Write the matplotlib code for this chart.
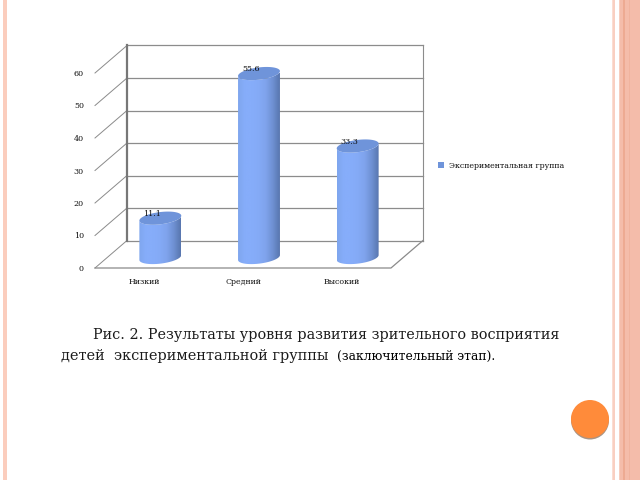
import numpy as np
import matplotlib
matplotlib.use('Agg')
import matplotlib.pyplot as plt
from matplotlib.patches import Polygon, Rectangle, Circle, Patch
from matplotlib.colors import LinearSegmentedColormap

categories = ['Низкий', 'Средний', 'Высокий']
values = [11.1, 55.6, 33.3]
value_labels = ['11.1', '55.6', '33.3']
series_name = 'Экспериментальная группа'
yticks = [0, 10, 20, 30, 40, 50, 60]
caption_1 = 'Рис. 2. Результаты уровня развития зрительного восприятия'
caption_2a = 'детей  экспериментальной группы '
caption_2b = '(заключительный этап).'

W, H = 640, 480
plt.rcParams['font.family'] = ['DejaVu Serif']
fig = plt.figure(figsize=(W/100, H/100), dpi=100, facecolor='white')

# page overlay in pixel coordinates
page = fig.add_axes([0, 0, 1, 1], zorder=0)
page.set_xlim(0, W); page.set_ylim(H, 0); page.axis('off')
for x0, x1, c in [(2.5, 3.5, '#FDE6DE'), (3.3, 7.3, '#FBCDBD'),
                  (611.5, 612.5, '#FBDDD2'), (612.5, 615, '#F9CFC1'),
                  (618.5, 640, '#F4BCAA'), (618.5, 620, '#F7CDBE'),
                  (623, 625, '#EDAA92'), (629, 630, '#F0B39E')]:
    page.add_patch(Rectangle((x0, 0), x1-x0, H, fc=c, ec='none'))
page.add_patch(Circle((590, 420.5), 19, fc='#AA9484', ec='none'))
page.add_patch(Circle((590, 419), 19, fc='#FF8B3A', ec='none'))
page.text(93, 335, caption_1, fontsize=10.35, color='#1A1A1A', va='center', ha='left')
page.text(61, 356, caption_2a, fontsize=10.45, color='#1A1A1A', va='center', ha='left')
page.text(337, 356, caption_2b, fontsize=8.9, color='#000000', va='center', ha='left')

# chart: front plane of the oblique 3-D box
L, R, B, T = 95, 391, 268, 73
ax = fig.add_axes([L/W, 1-B/H, (R-L)/W, (B-T)/H], zorder=1)
ax.patch.set_alpha(0)
ax.set_xlim(0, 3); ax.set_ylim(0, 60)
sx, sy = 3/(R-L), 60/(B-T)
dx, dy = 32*sx, 27.5*sy   # depth vector in data units

grid = '#8C8C8C'
for s in ax.spines.values():
    s.set_visible(False)
for v in yticks:
    ax.plot([dx, 3+dx], [v+dy, v+dy], color=grid, lw=0.9, clip_on=False, zorder=1)
    ax.plot([0, dx], [v, v+dy], color='#8A8A8A', lw=0.7, clip_on=False, zorder=1)
ax.plot([dx, dx], [dy, 60+dy], color='#777777', lw=1.6, clip_on=False, zorder=1)
ax.plot([3+dx, 3+dx], [dy, 60+dy], color=grid, lw=0.8, clip_on=False, zorder=1)
ax.plot([0, 3, 3+dx], [0, 0, dy], color='#8A8A8A', lw=0.9, clip_on=False, zorder=1)

cmap = LinearSegmentedColormap.from_list(
    'cyl', ['#7FA6EE', '#86ADFA', '#86ADFA', '#84AAF6', '#7FA3EC', '#6E90D2', '#5876AE'])
grad = np.linspace(0, 1, 256).reshape(1, -1)
a = 19.5*sx
r = 0.24
th = np.linspace(0, 2*np.pi, 180)
ex = a*np.cos(th) + r*dx*np.sin(th)
ey = r*dy*np.sin(th)
t_right = th[np.argmax(ex)]
for i, v in enumerate(values):
    cx = i + 0.5 + dx/2
    base = dy/2 - 1.0
    top = v + dy/2
    t_low = np.linspace(t_right, t_right - np.pi, 60)
    bx = cx + a*np.cos(t_low) + r*dx*np.sin(t_low)
    by = base + r*dy*np.sin(t_low)
    ux = bx[::-1]
    uy = (top + r*dy*np.sin(t_low))[::-1]
    body = Polygon(np.c_[np.r_[bx, ux], np.r_[by, uy]], closed=True, fc='none', ec='none')
    ax.add_patch(body)
    im = ax.imshow(grad, extent=[cx+ex.min(), cx+ex.max(), base-3, top+3], cmap=cmap,
                   aspect='auto', zorder=3, interpolation='bilinear')
    im.set_clip_path(body)
    ax.add_patch(Polygon(np.c_[cx+ex, top+ey], closed=True, fc='#6F94DA', ec='none', zorder=4, clip_on=False))
    ax.text(cx-8*sx, top + 4.5*sy, value_labels[i], fontsize=5.8, ha='center', va='center',
            color='#111111', zorder=5, clip_on=False)
ax.set_xlim(0, 3); ax.set_ylim(0, 60)

ax.set_yticks(yticks)
ax.set_xticks([0.5, 1.5, 2.5])
ax.set_xticklabels(categories, fontsize=5.7, color='#111111')
ax.tick_params(axis='y', length=0, pad=8, labelsize=5.8, labelcolor='#111111')
ax.tick_params(axis='x', length=0, pad=7)

handle = Patch(fc='#6F94DA', ec='none', label=series_name)
fig.legend(handles=[handle], loc='center left', bbox_to_anchor=(438/W, 1-166/H), frameon=False,
           fontsize=5.65, handlelength=0.75, handleheight=0.75, handletextpad=0.6,
           labelcolor='#111111', borderpad=0, borderaxespad=0)

fig.savefig('out.png', dpi=100)
